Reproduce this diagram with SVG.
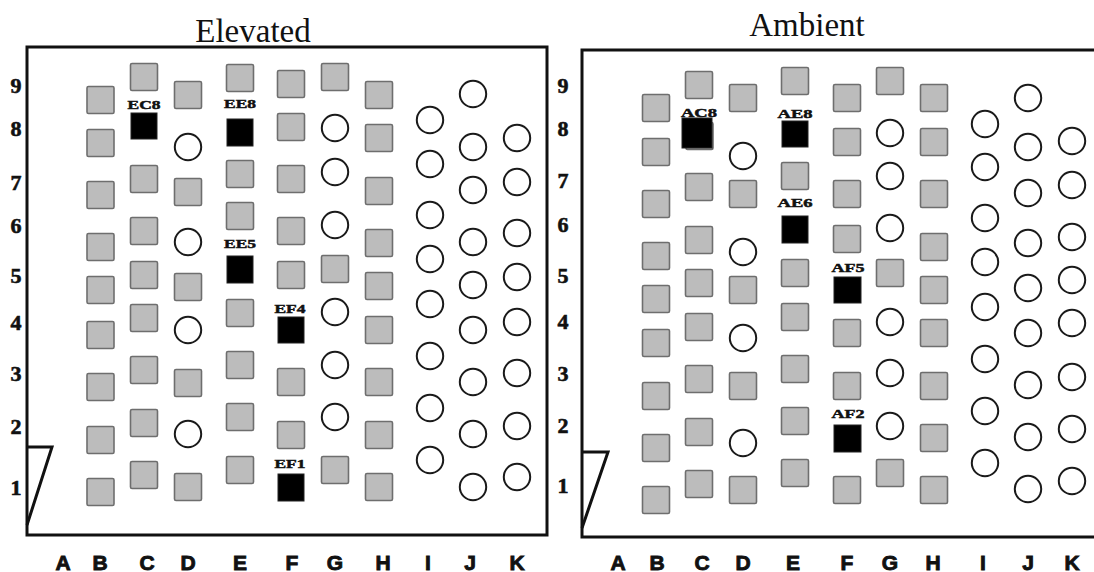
<svg xmlns="http://www.w3.org/2000/svg" xmlns:xlink="http://www.w3.org/1999/xlink" width="1094" height="572" viewBox="0 0 1094 572">
<style>
.frame{fill:none;stroke:#111;stroke-width:3}
.title{font-family:"Liberation Serif",serif;font-size:33px;fill:#111;text-anchor:middle}
.row{font-family:"Liberation Serif",serif;font-weight:bold;font-size:22px;fill:#111;stroke:#111;stroke-width:0.6;text-anchor:middle}
.col{font-family:"Liberation Sans",Arial,sans-serif;font-weight:bold;font-size:21px;fill:#111;stroke:#111;stroke-width:0.9;text-anchor:middle}
.lab{font-family:"Liberation Serif",serif;font-weight:bold;font-size:13px;fill:#111;stroke:#111;stroke-width:0.5;text-anchor:middle}
.blk{fill:#000;stroke:#222;stroke-width:1}
</style>
<defs>
<rect id="sq" x="-13.5" y="-13.5" width="27" height="27" rx="1.5" fill="#bcbcbc" stroke="#6e6e6e" stroke-width="1.6"/>
<circle id="ci" cx="0" cy="0" r="13.2" fill="#fff" stroke="#1a1a1a" stroke-width="2"/>
</defs>
<rect width="1094" height="572" fill="#fff"/>

<g id="elevated">
<text class="title" x="253" y="42">Elevated</text>
<rect class="frame" x="27" y="47" width="520" height="488"/>
<polyline class="frame" points="27,447 52,447 27,525"/>
<g id="el-rows">
<text class="row" x="16" y="93">9</text><text class="row" x="16" y="136">8</text><text class="row" x="16" y="190">7</text>
<text class="row" x="16" y="233">6</text><text class="row" x="16" y="283">5</text><text class="row" x="16" y="330">4</text>
<text class="row" x="16" y="381">3</text><text class="row" x="16" y="434">2</text><text class="row" x="16" y="495">1</text>
</g>
<g id="el-cols">
<text class="col" x="63" y="570">A</text><text class="col" x="100" y="570">B</text><text class="col" x="147" y="570">C</text>
<text class="col" x="188" y="570">D</text><text class="col" x="240" y="570">E</text><text class="col" x="292" y="570">F</text>
<text class="col" x="335" y="570">G</text><text class="col" x="383" y="570">H</text><text class="col" x="428" y="570">I</text>
<text class="col" x="470" y="570">J</text><text class="col" x="517" y="570">K</text>
</g>
<g id="el-B"><use href="#sq" x="100.5" y="100"/><use href="#sq" x="100.5" y="143"/><use href="#sq" x="100.5" y="195"/><use href="#sq" x="100.5" y="247"/><use href="#sq" x="100.5" y="290"/><use href="#sq" x="100.5" y="335"/><use href="#sq" x="100.5" y="387"/><use href="#sq" x="100.5" y="440"/><use href="#sq" x="100.5" y="492"/></g>
<g id="el-C"><use href="#sq" x="144" y="77"/><use href="#sq" x="144" y="179"/><use href="#sq" x="144" y="231"/><use href="#sq" x="144" y="275"/><use href="#sq" x="144" y="318"/><use href="#sq" x="144" y="370"/><use href="#sq" x="144" y="423"/><use href="#sq" x="144" y="475"/></g>
<g id="el-D"><use href="#sq" x="188" y="95"/><use href="#ci" x="188" y="147"/><use href="#sq" x="188" y="192"/><use href="#ci" x="188" y="242"/><use href="#sq" x="188" y="287"/><use href="#ci" x="188" y="330"/><use href="#sq" x="188" y="383"/><use href="#ci" x="188" y="434"/><use href="#sq" x="188" y="487"/></g>
<g id="el-E"><use href="#sq" x="240" y="78"/><use href="#sq" x="240" y="174"/><use href="#sq" x="240" y="216"/><use href="#sq" x="240" y="313"/><use href="#sq" x="240" y="365"/><use href="#sq" x="240" y="417"/><use href="#sq" x="240" y="470"/></g>
<g id="el-F"><use href="#sq" x="291" y="84"/><use href="#sq" x="291" y="127"/><use href="#sq" x="291" y="179"/><use href="#sq" x="291" y="231"/><use href="#sq" x="291" y="275"/><use href="#sq" x="291" y="382"/><use href="#sq" x="291" y="435"/></g>
<g id="el-G"><use href="#sq" x="335" y="77"/><use href="#ci" x="335" y="128"/><use href="#ci" x="335" y="172"/><use href="#ci" x="335" y="225"/><use href="#sq" x="335" y="269"/><use href="#ci" x="335" y="312"/><use href="#ci" x="335" y="365"/><use href="#ci" x="335" y="417"/><use href="#sq" x="335" y="470"/></g>
<g id="el-H"><use href="#sq" x="379" y="95"/><use href="#sq" x="379" y="138"/><use href="#sq" x="379" y="191"/><use href="#sq" x="379" y="243"/><use href="#sq" x="379" y="286"/><use href="#sq" x="379" y="330"/><use href="#sq" x="379" y="382"/><use href="#sq" x="379" y="435"/><use href="#sq" x="379" y="487"/></g>
<g id="el-I"><use href="#ci" x="430" y="120"/><use href="#ci" x="430" y="164"/><use href="#ci" x="430" y="215"/><use href="#ci" x="430" y="259"/><use href="#ci" x="430" y="304"/><use href="#ci" x="430" y="356"/><use href="#ci" x="430" y="408"/><use href="#ci" x="430" y="460"/></g>
<g id="el-J"><use href="#ci" x="473" y="94"/><use href="#ci" x="473" y="147"/><use href="#ci" x="473" y="190"/><use href="#ci" x="473" y="242"/><use href="#ci" x="473" y="285"/><use href="#ci" x="473" y="330"/><use href="#ci" x="473" y="382"/><use href="#ci" x="473" y="434"/><use href="#ci" x="473" y="487"/></g>
<g id="el-K"><use href="#ci" x="517" y="138"/><use href="#ci" x="517" y="182"/><use href="#ci" x="517" y="233"/><use href="#ci" x="517" y="277"/><use href="#ci" x="517" y="322"/><use href="#ci" x="517" y="373"/><use href="#ci" x="517" y="426"/><use href="#ci" x="517" y="477"/></g>
<g id="EC8"><text class="lab" x="144" y="108.5" textLength="33" lengthAdjust="spacingAndGlyphs">EC8</text><rect class="blk" x="131" y="113" width="26" height="26"/></g>
<g id="EE8"><text class="lab" x="240" y="108" textLength="32" lengthAdjust="spacingAndGlyphs">EE8</text><rect class="blk" x="227" y="119" width="26" height="27"/></g>
<g id="EE5"><text class="lab" x="240" y="248" textLength="32" lengthAdjust="spacingAndGlyphs">EE5</text><rect class="blk" x="227" y="256" width="26" height="27"/></g>
<g id="EF4"><text class="lab" x="290" y="313" textLength="31" lengthAdjust="spacingAndGlyphs">EF4</text><rect class="blk" x="278" y="317" width="26" height="26"/></g>
<g id="EF1"><text class="lab" x="290" y="468" textLength="31" lengthAdjust="spacingAndGlyphs">EF1</text><rect class="blk" x="278" y="474" width="26" height="27"/></g>
</g>

<g id="ambient">
<text class="title" x="807" y="36">Ambient</text>
<path class="frame" d="M1100,50 H582 V537 H1100"/>
<polyline class="frame" points="582,452 608,452 582,528"/>
<g id="am-rows">
<text class="row" x="563" y="93">9</text><text class="row" x="563" y="136">8</text><text class="row" x="563" y="188">7</text>
<text class="row" x="563" y="232">6</text><text class="row" x="563" y="283">5</text><text class="row" x="563" y="329">4</text>
<text class="row" x="563" y="381">3</text><text class="row" x="563" y="433">2</text><text class="row" x="563" y="493">1</text>
</g>
<g id="am-cols">
<text class="col" x="618" y="570">A</text><text class="col" x="657" y="570">B</text><text class="col" x="702" y="570">C</text>
<text class="col" x="743" y="570">D</text><text class="col" x="793" y="570">E</text><text class="col" x="847" y="570">F</text>
<text class="col" x="890" y="570">G</text><text class="col" x="933" y="570">H</text><text class="col" x="983" y="570">I</text>
<text class="col" x="1028" y="570">J</text><text class="col" x="1072" y="570">K</text>
</g>
<g id="am-B"><use href="#sq" x="656" y="108"/><use href="#sq" x="656" y="152"/><use href="#sq" x="656" y="204"/><use href="#sq" x="656" y="256"/><use href="#sq" x="656" y="299"/><use href="#sq" x="656" y="343"/><use href="#sq" x="656" y="396"/><use href="#sq" x="656" y="448"/><use href="#sq" x="656" y="500"/></g>
<g id="am-C"><use href="#sq" x="699" y="85"/><use href="#sq" x="699.5" y="136"/><use href="#sq" x="699" y="187"/><use href="#sq" x="699" y="240"/><use href="#sq" x="699" y="283"/><use href="#sq" x="699" y="327"/><use href="#sq" x="699" y="379"/><use href="#sq" x="699" y="432"/><use href="#sq" x="699" y="484"/></g>
<g id="am-D"><use href="#sq" x="743" y="98"/><use href="#ci" x="743" y="156"/><use href="#sq" x="743" y="194"/><use href="#ci" x="743" y="252"/><use href="#sq" x="743" y="290"/><use href="#ci" x="743" y="338"/><use href="#sq" x="743" y="386"/><use href="#ci" x="743" y="443"/><use href="#sq" x="743" y="490"/></g>
<g id="am-E"><use href="#sq" x="795" y="81"/><use href="#sq" x="795" y="176"/><use href="#sq" x="795" y="273"/><use href="#sq" x="795" y="317"/><use href="#sq" x="795" y="369"/><use href="#sq" x="795" y="421"/><use href="#sq" x="795" y="473"/></g>
<g id="am-F"><use href="#sq" x="847" y="98"/><use href="#sq" x="847" y="142"/><use href="#sq" x="847" y="194"/><use href="#sq" x="847" y="239"/><use href="#sq" x="847" y="333"/><use href="#sq" x="847" y="386"/><use href="#sq" x="847" y="490"/></g>
<g id="am-G"><use href="#sq" x="890" y="81"/><use href="#ci" x="890" y="133"/><use href="#ci" x="890" y="176"/><use href="#ci" x="890" y="228"/><use href="#sq" x="890" y="273"/><use href="#ci" x="890" y="322"/><use href="#ci" x="890" y="373"/><use href="#ci" x="890" y="426"/><use href="#sq" x="890" y="473"/></g>
<g id="am-H"><use href="#sq" x="934" y="98"/><use href="#sq" x="934" y="142"/><use href="#sq" x="934" y="194"/><use href="#sq" x="934" y="247"/><use href="#sq" x="934" y="290"/><use href="#sq" x="934" y="333"/><use href="#sq" x="934" y="386"/><use href="#sq" x="934" y="438"/><use href="#sq" x="934" y="490"/></g>
<g id="am-I"><use href="#ci" x="985" y="124"/><use href="#ci" x="985" y="167"/><use href="#ci" x="985" y="218"/><use href="#ci" x="985" y="262"/><use href="#ci" x="985" y="307"/><use href="#ci" x="985" y="359"/><use href="#ci" x="985" y="411"/><use href="#ci" x="985" y="463"/></g>
<g id="am-J"><use href="#ci" x="1028" y="98"/><use href="#ci" x="1028" y="147"/><use href="#ci" x="1028" y="193"/><use href="#ci" x="1028" y="243"/><use href="#ci" x="1028" y="288"/><use href="#ci" x="1028" y="333"/><use href="#ci" x="1028" y="385"/><use href="#ci" x="1028" y="437"/><use href="#ci" x="1028" y="489"/></g>
<g id="am-K"><use href="#ci" x="1072" y="141"/><use href="#ci" x="1072" y="185"/><use href="#ci" x="1072" y="237"/><use href="#ci" x="1072" y="280"/><use href="#ci" x="1072" y="323"/><use href="#ci" x="1072" y="377"/><use href="#ci" x="1072" y="429"/><use href="#ci" x="1072" y="481"/></g>
<g id="AC8"><rect class="blk" x="682" y="118" width="30" height="30"/><text class="lab" x="699" y="117" textLength="36" lengthAdjust="spacingAndGlyphs">AC8</text></g>
<g id="AE8"><text class="lab" x="795" y="118" textLength="35" lengthAdjust="spacingAndGlyphs">AE8</text><rect class="blk" x="782" y="121" width="26" height="26"/></g>
<g id="AE6"><text class="lab" x="795" y="207" textLength="35" lengthAdjust="spacingAndGlyphs">AE6</text><rect class="blk" x="782" y="216" width="26" height="27"/></g>
<g id="AF5"><text class="lab" x="848" y="272" textLength="33" lengthAdjust="spacingAndGlyphs">AF5</text><rect class="blk" x="834" y="277" width="27" height="26"/></g>
<g id="AF2"><text class="lab" x="848" y="418" textLength="33" lengthAdjust="spacingAndGlyphs">AF2</text><rect class="blk" x="834" y="425" width="27" height="27"/></g>
</g>
</svg>
